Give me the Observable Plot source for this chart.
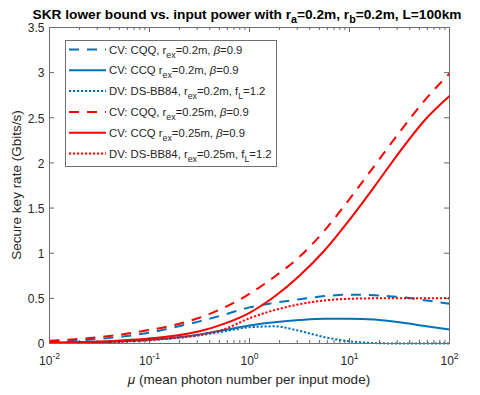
<!DOCTYPE html>
<html><head><meta charset="utf-8">
<script src="https://cdn.jsdelivr.net/npm/d3@7"></script>
<script src="https://cdn.jsdelivr.net/npm/@observablehq/plot@0.6"></script>
<style>
body{margin:0;background:#fff;}
svg text{font-family:"Liberation Sans",Arial,Helvetica,sans-serif;}
</style>
</head><body><div id="chart"></div>
<script>
// ---- data ----
const mu = [0.01, 0.0178, 0.0316, 0.0562, 0.1, 0.178, 0.316, 0.562, 1, 1.78, 3.16, 5.62, 10, 17.8, 31.6, 56.2, 100];
const cvCQQ_r020  = [0.02, 0.03, 0.05, 0.08, 0.12, 0.18, 0.245, 0.32, 0.40, 0.45, 0.49, 0.525, 0.54, 0.535, 0.515, 0.48, 0.44];
const cvCCQ_r020  = [0.005, 0.008, 0.014, 0.025, 0.042, 0.065, 0.10, 0.15, 0.20, 0.235, 0.26, 0.275, 0.275, 0.265, 0.235, 0.195, 0.155];
const dvBB84_r020 = [0.005, 0.008, 0.014, 0.025, 0.04, 0.06, 0.09, 0.135, 0.18, 0.19, 0.14, 0.07, 0.025, 0.005, 0, 0, 0];
const cvCQQ_r025  = [0.03, 0.047, 0.07, 0.105, 0.15, 0.205, 0.285, 0.40, 0.55, 0.74, 0.96, 1.25, 1.60, 1.97, 2.34, 2.69, 2.99];
const cvCCQ_r025  = [0.01, 0.015, 0.022, 0.035, 0.055, 0.085, 0.135, 0.22, 0.34, 0.52, 0.75, 1.03, 1.37, 1.74, 2.12, 2.47, 2.74];
const dvBB84_r025 = [0.005, 0.008, 0.013, 0.022, 0.037, 0.06, 0.095, 0.16, 0.28, 0.37, 0.435, 0.477, 0.495, 0.50, 0.50, 0.50, 0.50];

const seriesLabels = [
  "CV: CQQ, r_{ex}=0.2m, \\beta=0.9",
  "CV: CCQ r_{ex}=0.2m, \\beta=0.9",
  "DV: DS-BB84, r_{ex}=0.2m, f_{L}=1.2",
  "CV: CQQ, r_{ex}=0.25m, \\beta=0.9",
  "CV: CCQ r_{ex}=0.25m, \\beta=0.9",
  "DV: DS-BB84, r_{ex}=0.25m, f_{L}=1.2"
];
const seriesValues = [cvCQQ_r020, cvCCQ_r020, dvBB84_r020, cvCQQ_r025, cvCCQ_r025, dvBB84_r025];

const xMajorTicks = [0.01, 0.1, 1, 10, 100];
const yTicks = [0, 0.5, 1, 1.5, 2, 2.5, 3, 3.5];
const titleText = "SKR lower bound vs. input power with r_{a}=0.2m, r_{b}=0.2m, L=100km";
const xLabelText = "\\mu (mean photon number per input mode)";
const yLabelText = "Secure key rate (Gbits/s)";

// ---- styles ----
const BLUE = "#0072BD", RED = "#FF0000";
const styles = [
  {color: BLUE, dash: "10,8"}, {color: BLUE, dash: null}, {color: BLUE, dash: "2.2,1.8"},
  {color: RED, dash: "10,8"},  {color: RED, dash: null},  {color: RED, dash: "2.2,1.8"}
];
const xMinorTicks = [];
for (let e = -2; e < 2; e++) for (let k = 2; k <= 9; k++) xMinorTicks.push(k * Math.pow(10, e));

const W = 480, H = 395, mL = 49, mR = 31, mT = 27, mB = 52;
const pw = W - mL - mR, ph = H - mT - mB;
const AX = "#262626", FRAME = "#6f6f6f";

const lineMarks = seriesValues.map((vals, i) => {
  const rows = mu.map((m, j) => ({mu: m, v: vals[j]}));
  return Plot.line(rows, {x: "mu", y: "v", stroke: styles[i].color, strokeWidth: 2,
    strokeDasharray: styles[i].dash, curve: "monotone-x", strokeLinecap: "butt"});
});

const svg = Plot.plot({
  width: W, height: H, marginLeft: mL, marginRight: mR, marginTop: mT, marginBottom: mB,
  x: {type: "log", domain: [0.01, 100]},
  y: {domain: [0, 3.5]},
  style: {fontFamily: "Liberation Sans, Arial, sans-serif", fontSize: "12px", color: AX, background: "white", overflow: "visible"},
  marks: [
    Plot.axisX(xMajorTicks, {tickSize: 0, tickPadding: 13, label: null, fontSize: 12,
      tickFormat: d => String(Math.round(Math.log10(d)))}),
    Plot.axisY(yTicks, {tickSize: 0, tickPadding: 5, label: null, fontSize: 12, dy: 1, tickFormat: d => String(d)}),
    ...lineMarks,
    Plot.ruleX(xMajorTicks, {x: d => d, insetTop: ph - 5, stroke: AX, strokeWidth: 0.7}),
    Plot.ruleX(xMajorTicks, {x: d => d, insetBottom: ph - 5, stroke: AX, strokeWidth: 0.7}),
    Plot.ruleX(xMinorTicks, {x: d => d, insetTop: ph - 3, stroke: AX, strokeWidth: 0.7}),
    Plot.ruleX(xMinorTicks, {x: d => d, insetBottom: ph - 3, stroke: AX, strokeWidth: 0.7}),
    Plot.ruleY(yTicks, {y: d => d, insetRight: pw - 5, stroke: AX, strokeWidth: 0.7}),
    Plot.ruleY(yTicks, {y: d => d, insetLeft: pw - 5, stroke: AX, strokeWidth: 0.7}),
    Plot.frame({stroke: FRAME, strokeWidth: 1})
  ]
});
document.getElementById("chart").appendChild(svg);
const root = d3.select(svg);

// superscript exponents on x tick labels
root.selectAll('g[aria-label="x-axis tick label"] text').each(function() {
  const e = this.textContent;
  const t = d3.select(this);
  t.text(null);
  t.append("tspan").text("10");
  t.append("tspan").attr("font-size", "8.5px").attr("dy", "-6px").text(e);
});

// tiny TeX-like renderer: _{sub}, \beta, \mu
function tex(sel, str, size) {
  const parts = str.split(/(_\{[^}]*\}|\\beta|\\mu)/).filter(s => s.length);
  let shifted = 0;
  parts.forEach(p => {
    if (p.startsWith("_{")) {
      const sub = p.slice(2, -1);
      const d = Math.round(size * 0.32);
      sel.append("tspan").attr("font-size", (size * 0.78) + "px").attr("dy", d).text(sub);
      shifted += d;
    } else {
      const ts = sel.append("tspan");
      if (shifted) { ts.attr("dy", -shifted); shifted = 0; }
      if (p === "\\beta") ts.attr("font-style", "italic").text("\u03B2");
      else if (p === "\\mu") ts.attr("font-style", "italic").text("\u03BC");
      else ts.text(p);
    }
  });
}

// title
const title = root.append("text").attr("x", 247).attr("y", 19).attr("text-anchor", "middle")
  .attr("font-weight", "bold").attr("font-size", "13.7px").attr("fill", "#000");
tex(title, titleText, 13.7);

// x label
const xl = root.append("text").attr("x", mL + pw / 2).attr("y", 384).attr("text-anchor", "middle")
  .attr("font-size", "13.5px").attr("fill", AX);
tex(xl, xLabelText, 13.5);

// y label
const yl = root.append("text").attr("transform", `translate(21,${mT + ph / 2}) rotate(-90)`)
  .attr("text-anchor", "middle").attr("font-size", "13.5px").attr("fill", AX);
tex(yl, yLabelText, 13.5);

// legend
const lg = root.append("g").attr("text-anchor", "start");
lg.append("rect").attr("x", 65.5).attr("y", 40.5).attr("width", 211).attr("height", 126)
  .attr("fill", "white").attr("stroke", FRAME).attr("stroke-width", 1);
seriesLabels.forEach((lab, i) => {
  const cy = 49.5 + i * 20.8;
  lg.append("line").attr("x1", 69).attr("x2", 106).attr("y1", cy).attr("y2", cy)
    .attr("stroke", styles[i].color).attr("stroke-width", 2)
    .attr("stroke-dasharray", styles[i].dash);
  const t = lg.append("text").attr("x", 109).attr("y", cy + 4).attr("text-anchor", "start")
    .attr("font-size", "11.3px").attr("fill", AX);
  tex(t, lab, 11.3);
});
</script>
</body></html>
